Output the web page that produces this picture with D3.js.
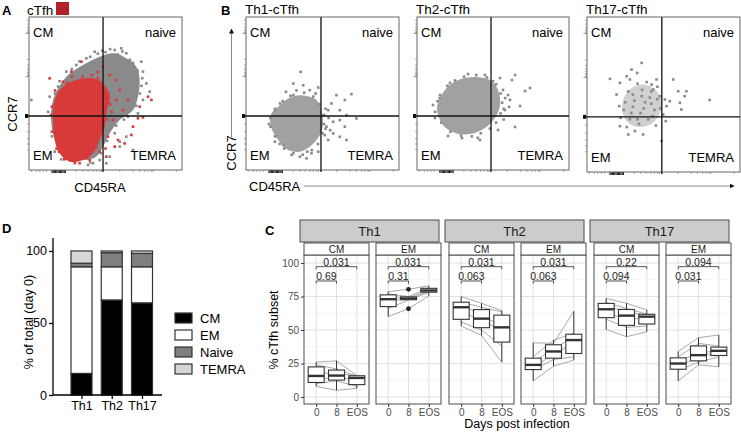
<!DOCTYPE html>
<html><head><meta charset="utf-8">
<script src="https://cdn.jsdelivr.net/npm/d3@7"></script>
<style>
body{margin:0;background:#fff}
svg text{font-family:Arial,"Liberation Sans",Helvetica,sans-serif}
</style>
</head><body>
<svg id="c" width="741" height="433"></svg>
<script>
// ---------------- DATA ----------------
// Flow panels (arbitrary fluorescence units, 0-100 on both axes)
const gateX = [48.4, 49.0, 48.7, 48.9];
const gateY = [35.3, 35.3, 35.3, 35.6];
const quadLabels = ["CM", "naive", "EM", "TEMRA"];
const flowTitles = ["Th1-cTfh", "Th2-cTfh", "Th17-cTfh"];

const aGreyHull = [[15.7,45.8],[24.4,61.0],[35.3,68.6],[46.2,74.1],[56.0,76.3],[63.6,73.0],[70.2,67.5],[72.3,58.8],[71.2,47.9],[68.0,39.2],[59.3,32.7],[52.7,24.0],[48.4,15.3],[44.0,8.7],[35.3,6.5],[24.4,8.7],[17.9,17.4],[14.6,30.5]];
const aRedHull = [[16.8,45.8],[22.2,54.5],[30.9,58.8],[41.8,59.9],[48.4,56.6],[52.7,47.9],[50.5,37.0],[49.5,28.3],[46.2,19.6],[41.8,10.9],[35.3,6.5],[26.6,5.4],[20.0,10.9],[16.8,19.6],[15.7,32.7]];
const aGreyDots = [[42.9,77.3],[56.0,78.4],[63.6,76.3],[73.4,70.8],[74.5,64.3],[76.7,56.6],[78.9,51.2],[74.5,45.8],[71.2,37.0],[64.7,34.9],[1.5,45.8],[46.2,6.5],[50.5,4.4],[41.8,4.4],[16.8,12.0],[68.0,13.1],[59.3,18.5],[56.0,24.0],[37.5,73.0],[30.9,68.6],[24.4,64.3],[19.0,54.5],[13.5,47.9],[60.3,79.5],[54.9,74.1],[66.9,69.7],[70.2,61.0],[59.3,15.3],[63.6,21.8],[52.7,8.7],[38.6,3.3],
  [20,58],[28,66],[33,71],[40,74],[50,77],[58,75.5],[66,72],[71,65],[73.5,55],[72.5,50],[70,42],[64,36],[57,29],[51,19],[47,11],[40,5],[30,6],[21,7],[15,22],[12.5,38],[17,50],[45,76],[68,70],[62,33],[49,27],[55,31],[53,79],[48,78],[61,77.5],[69,66],[74,60]];
const aRedDots = [[13.5,59.9],[15.0,41.4],[19.6,12.0],[25.5,8.7],[33.1,4.4],[39.7,6.5],[50.5,8.7],[56.0,15.3],[58.2,19.6],[62.5,17.4],[66.9,22.9],[68.0,28.3],[71.2,33.8],[74.5,34.4],[80.0,45.8],[77.8,47.9],[72.3,41.4],[52.7,62.1],[57.1,58.8],[48.4,67.5],[34.2,70.8],[27.7,64.3],[22.2,57.7],[61.4,39.2],[54.9,32.7],[46.2,12.0],[59.3,52.3],[64.7,45.8],[57.1,45.8],[51.6,21.8],
  [17,52],[25,57],[35,61],[45,60],[50,53],[53,43],[51,33],[48,25],[44,15],[38,8],[30,4.5],[23,7],[18,14],[15,25],[14.5,36],[19,49],[41,62],[52,50],[54,38],[50,14],[45,64],[28,61]];

const b1Hull = [[16.7,37.0],[21.1,41.3],[27.6,46.7],[35.2,48.9],[41.7,47.8],[46.1,45.7],[49.3,39.1],[50.4,32.6],[49.3,25.0],[46.1,19.6],[41.7,15.2],[35.2,12.0],[27.6,13.0],[21.1,19.6],[16.7,27.2],[15.7,32.6]];
const b1Dots = [[35.7,64.1],[30.9,56.5],[37.4,55.4],[47.2,53.9],[41.7,52.2],[26.1,51.1],[22.2,43.5],[18.9,39.1],[16.1,28.3],[59.1,48.9],[68.9,49.6],[64.6,45.7],[55.9,43.5],[53.7,39.1],[61.3,39.1],[65.7,35.9],[72.2,33.7],[61.3,32.6],[57.0,31.5],[64.6,28.3],[52.6,28.3],[57.0,23.9],[61.3,21.7],[51.5,22.8],[65.7,19.6],[53.7,19.6],[39.6,7.6],[35.2,8.7],[29.8,9.8],[42.8,10.9],[24.3,16.3],[18.9,18.5],[47.2,12.0],
  [16,34],[19,40],[24,45],[31,49],[38,50.5],[44,48],[48,43],[51,36],[51,30],[50,24],[47,17],[43,13],[37,10],[31,11],[25,14],[19,22],[15,30],[33,52],[29,48.5],[45.5,50],[52,40],[52,27],[40,12],[22,17],[54,34],[55,26]];
const b2Hull = [[13.2,40.5],[18.4,52.3],[27.0,58.8],[38.2,60.8],[48.0,58.8],[53.3,52.3],[54.6,42.5],[51.3,34.0],[44.7,27.5],[34.9,23.5],[25.0,24.2],[17.1,29.4]];
const b2Dots = [[64.5,62.1],[71.1,51.6],[67.8,41.8],[64.5,28.1],[62.5,58.8],[59.9,49.0],[57.9,39.2],[61.2,45.8],[53.3,26.1],[41.4,19.6],[29.6,20.9],[20.4,22.2],[11.8,34.0],[10.5,42.5],[15.1,49.0],[21.7,56.9],[33.6,62.7],[44.7,62.1],[54.6,60.1],[74.3,53.6],[56.6,52.3],[60.5,41.2],
  [12,38],[15,47],[20,55],[25,58.5],[31,61],[39,62],[46,60.5],[52,56],[55,50],[56,44],[55,37],[52,31],[48,27],[42,24],[36,22],[29,22.5],[22,25],[16,31],[13.5,45],[50,58],[57,40],[40,21],[58,47],[57,33]];
const b3Hull = [[23.7,46.8],[28.0,53.2],[34.6,56.4],[41.1,55.4],[46.5,51.1],[48.7,44.6],[47.6,38.2],[44.3,32.8],[38.9,29.6],[32.4,29.2],[27.0,31.8],[23.3,38.2]];
const b3Dots = [[35.7,70.4],[29.1,66.1],[32.8,63.9],[15.0,60.1],[21.5,57.5],[28.0,59.7],[42.2,56.4],[43.3,53.2],[56.3,59.7],[59.6,52.1],[65.0,52.1],[63.9,48.9],[80.2,46.4],[50.9,46.8],[54.1,45.7],[60.7,44.6],[61.7,40.3],[52.0,42.5],[49.8,37.1],[51.5,32.8],[48.7,20.0],[36.7,24.2],[31.3,26.4],[27.0,24.2],[21.5,29.6],[21.1,42.5],[19.3,50.0],[25.9,61.8],[45.4,59.7],[35.7,48.9],[47.6,48.9],
  [25,45],[30,50],[36,53],[42,52],[46,47],[44,40],[40,34],[34,31],[28,34],[24,40],[30,42],[38,45],[35,38],[42,44],[27,52],[46,55],[33,57],[39,58],[48,41],[22,35],[26,29],[45,30],[31,46],[37,41],[41,48],[29,38],[33,34],[43,36]];

// flow axis tick positions (same units)
const flowYMinor = [13.1,17.0,20.7,25.1,30.1,61.9,62.7,63.6,64.9,66.4,68.6,72.3,89.9,90.8,91.9,93.2,95.4,98.0];
const flowYMajor = [61.0, 89.3];
const flowXMinor = [1.5,4.8,7.0,9.2,11.3,30.9,35.3,38.6,41.8,44.0,46.2,47.3,59.3,68.0,72.3,75.6,77.8,79.9,81.0,96.3];
const flowXBlob = [15,15.8,16.6,17.4,18.2,19,19.8,20.6,21.4,22.2,23,23.8];

// Panel D: % of total (day 0)
const dCategories = ["Th1", "Th2", "Th17"];
const dSubsets = ["CM", "EM", "Naive", "TEMRA"];
const dCM = [15, 66, 64];
const dEM = [74, 23, 25];
const dNaive = [2.5, 9.8, 9.3];
const dTEMRA = [8.5, 1.2, 1.7];
const dTicks = [0, 50, 100];

// Panel C: per-subject % cTfh subset; rows = subjects, cols = days
const cGroups = ["Th1", "Th2", "Th17"];
const cSubsets = ["CM", "EM"];
const cDays = ["0", "8", "EOS"];
const cTicks = [0, 25, 50, 75, 100];
const th1CM = [[26,27,16],[24,21,15.5],[18,17.5,16],[13.5,14.5,13],[10,12,8],[8,5,6.5]];
const th1EM = [[78.6,80.4,83],[77,75,81.5],[74,74,80],[72,73,79],[66,72.5,78],[60,65.9,75.5]];
const th2CM = [[75,70,64.5],[71,67,63.5],[70,60,54],[64,57,50],[56,50,38],[53,46,26]];
const th2EM = [[40.5,40,64],[30,42.5,47.5],[26,36,45],[22,32,40],[20,28,30],[12,23,27.6]];
const th17CM = [[73.6,70,65],[70.5,66,62],[68,63.5,61],[63,58,59],[58,52,53],[50.5,45,48.7]];
const th17EM = [[34,44.3,46.3],[30,40,38],[27,32.5,35],[23,30,34],[20,26,30],[12,24,22.6]];
const pZeroVsEOS = [["0.031","0.031"],["0.031","0.031"],["0.22","0.094"]];
const pZeroVs8 = [["0.69","0.31"],["0.063","0.063"],["0.094","0.031"]];

// ---------------- DRAW ----------------
const svg = d3.select("#c");
let clipN = 0;

function label(txt, x, y, opts = {}) {
  const t = svg.append("text").attr("x", x).attr("y", y).text(txt)
    .attr("font-size", opts.size || 13).attr("fill", opts.fill || "#000")
    .attr("text-anchor", opts.anchor || "start");
  if (opts.bold) t.attr("font-weight", "bold");
  if (opts.rotate) t.attr("transform", `rotate(-90,${x},${y})`);
  return t;
}

function drawFlow(box, gx, gy, layers) {
  const g = svg.append("g");
  const x = d3.scaleLinear().domain([0, 100]).range([box.x, box.x + box.w]);
  const y = d3.scaleLinear().domain([0, 100]).range([box.y + box.h, box.y]);
  const id = "clip" + (clipN++);
  svg.append("clipPath").attr("id", id).append("rect")
    .attr("x", box.x).attr("y", box.y).attr("width", box.w).attr("height", box.h);
  const inner = g.append("g").attr("clip-path", `url(#${id})`);
  const hullLine = d3.line().x(d => x(d[0])).y(d => y(d[1])).curve(d3.curveCatmullRomClosed.alpha(0.5));
  layers.forEach(L => {
    inner.append("path").datum(L.hull).attr("d", hullLine).attr("fill", L.color).attr("opacity", L.op);
    inner.selectAll(null).data(L.dots).join("rect")
      .attr("x", d => x(d[0]) - 1.3).attr("y", d => y(d[1]) - 1.3)
      .attr("width", 2.6).attr("height", 2.6).attr("fill", L.color);
  });
  const yb = box.y + box.h;
  g.selectAll(null).data(flowYMinor).join("line")
    .attr("x1", box.x - 2).attr("x2", box.x).attr("y1", d => y(d)).attr("y2", d => y(d))
    .attr("stroke", "#888").attr("stroke-width", 0.7);
  g.selectAll(null).data(flowYMajor).join("line")
    .attr("x1", box.x - 3.5).attr("x2", box.x).attr("y1", d => y(d)).attr("y2", d => y(d))
    .attr("stroke", "#777").attr("stroke-width", 0.8);
  g.selectAll(null).data(flowXMinor).join("line")
    .attr("y1", yb).attr("y2", yb + 2).attr("x1", d => x(d)).attr("x2", d => x(d))
    .attr("stroke", "#888").attr("stroke-width", 0.7);
  g.selectAll(null).data(flowXBlob).join("line")
    .attr("y1", yb).attr("y2", yb + 3).attr("x1", d => x(d)).attr("x2", d => x(d))
    .attr("stroke", "#111").attr("stroke-width", 1);
  g.append("rect").attr("x", box.x).attr("y", box.y).attr("width", box.w).attr("height", box.h)
    .attr("fill", "none").attr("stroke", "#666").attr("stroke-width", 1);
  g.append("line").attr("x1", x(gx)).attr("x2", x(gx)).attr("y1", box.y).attr("y2", yb + 2)
    .attr("stroke", "#111").attr("stroke-width", 1.3);
  g.append("line").attr("x1", box.x - 4).attr("x2", box.x + box.w).attr("y1", y(gy)).attr("y2", y(gy))
    .attr("stroke", "#111").attr("stroke-width", 1.3);
  g.append("rect").attr("x", box.x - 4).attr("y", y(gy) - 2).attr("width", 3).attr("height", 4).attr("fill", "#111");
  label(quadLabels[0], box.x + 4, box.y + 20, {size: 13});
  label(quadLabels[1], box.x + box.w - 6, box.y + 20, {size: 13, anchor: "end"});
  label(quadLabels[2], box.x + 4, yb - 10, {size: 13});
  label(quadLabels[3], box.x + box.w - 6, yb - 10, {size: 13, anchor: "end"});
}

const GREY = "#8a8a8a", RED = "#d83a3a";

// Panel A
label("A", 2, 15, {bold: true, size: 13});
label("cTfh", 27, 15, {size: 13.5});
svg.append("rect").attr("x", 56).attr("y", 2).attr("width", 13).attr("height", 13).attr("fill", "#b22128");
drawFlow({x: 29, y: 17, w: 153, h: 153}, gateX[0], gateY[0], [
  {hull: aGreyHull, dots: aGreyDots, color: GREY, op: 1},
  {hull: aRedHull, dots: aRedDots, color: RED, op: 1}
]);
label("CD45RA", 100, 192, {size: 13, anchor: "middle"});
label("CCR7", 17, 114, {size: 13, anchor: "middle", rotate: true});

// Panel B
label("B", 221, 15, {bold: true, size: 13});
const bBoxes = [{x: 246, y: 17, w: 153, h: 153}, {x: 417, y: 17, w: 152, h: 153}, {x: 587, y: 17, w: 153, h: 155}];
const bHulls = [b1Hull, b2Hull, b3Hull];
const bDots = [b1Dots, b2Dots, b3Dots];
const bOps = [0.8, 0.8, 0.4];
bBoxes.forEach((b, i) => {
  label(flowTitles[i], b.x - 1, 14, {size: 13.5});
  drawFlow(b, gateX[i + 1], gateY[i + 1], [{hull: bHulls[i], dots: bDots[i], color: GREY, op: bOps[i]}]);
});
const defs = svg.append("defs");
defs.append("marker").attr("id", "arr").attr("viewBox", "0 0 10 10").attr("refX", 9).attr("refY", 5)
  .attr("markerWidth", 5).attr("markerHeight", 5).attr("orient", "auto")
  .append("path").attr("d", "M0,0L10,5L0,10z").attr("fill", "#111");
svg.append("line").attr("x1", 231.5).attr("x2", 231.5).attr("y1", 137).attr("y2", 29)
  .attr("stroke", "#888").attr("stroke-width", 1).attr("marker-end", "url(#arr)");
label("CCR7", 236, 153, {size: 13, anchor: "middle", rotate: true});
label("CD45RA", 249, 191, {size: 13});
svg.append("line").attr("x1", 304).attr("x2", 734).attr("y1", 186).attr("y2", 186)
  .attr("stroke", "#888").attr("stroke-width", 1).attr("marker-end", "url(#arr)");

// Panel D
label("D", 2, 233, {bold: true, size: 13});
const dy = d3.scaleLinear().domain([0, 109]).range([395, 238]);
const dx = d3.scalePoint().domain(dCategories).range([81.5, 142]);
const dColors = {CM: "#000000", EM: "#ffffff", Naive: "#7f7f7f", TEMRA: "#d6d6d6"};
const dRows = dCategories.map((c, i) => ({cat: c, CM: dCM[i], EM: dEM[i], Naive: dNaive[i], TEMRA: dTEMRA[i]}));
const stack = d3.stack().keys(dSubsets)(dRows);
const dg = svg.append("g");
stack.forEach(layer => {
  dg.selectAll(null).data(layer).join("rect")
    .attr("x", d => dx(d.data.cat) - 10.5).attr("width", 21)
    .attr("y", d => dy(d[1])).attr("height", d => dy(d[0]) - dy(d[1]))
    .attr("fill", dColors[layer.key]).attr("stroke", "#333").attr("stroke-width", 1.2);
});
const dAxisY = svg.append("g").attr("transform", "translate(53,0)")
  .call(d3.axisLeft(dy).tickValues(dTicks).tickSize(4).tickPadding(2));
dAxisY.select(".domain").attr("stroke", "#000").attr("stroke-width", 1.3).attr("d", `M0,${dy(109)}V${dy(0)}`);
dAxisY.selectAll(".tick line").attr("stroke", "#000").attr("stroke-width", 1.3);
dAxisY.selectAll("text").attr("font-size", 12.5).attr("fill", "#000");
const dAxisX = svg.append("g").attr("transform", "translate(0,395)")
  .call(d3.axisBottom(dx).tickSize(4).tickPadding(2));
dAxisX.select(".domain").attr("stroke", "#000").attr("stroke-width", 1.3).attr("d", "M53,0H162");
dAxisX.selectAll(".tick line").attr("stroke", "#000").attr("stroke-width", 1.3);
dAxisX.selectAll("text").attr("font-size", 12.5).attr("fill", "#000");
label("% of total (day 0)", 33, 322, {size: 12.5, anchor: "middle", rotate: true});
dSubsets.forEach((s, i) => {
  const yy = 313 + i * 17;
  svg.append("rect").attr("x", 175).attr("y", yy).attr("width", 17).attr("height", 10)
    .attr("fill", dColors[s]).attr("stroke", "#333").attr("stroke-width", 1.2);
  label(s, 200, yy + 10, {size: 13});
});

// Panel C
label("C", 265, 235, {bold: true, size: 13});
const cData = [[th1CM, th1EM], [th2CM, th2EM], [th17CM, th17EM]];
const cy = d3.scaleLinear().domain([-5.2, 106]).range([404, 255]);
const PW = 65;
function boxStats(vals) {
  const s = vals.slice().sort(d3.ascending);
  const q1 = d3.quantile(s, 0.25), med = d3.quantile(s, 0.5), q3 = d3.quantile(s, 0.75);
  const iqr = q3 - q1, lo = q1 - 1.5 * iqr, hi = q3 + 1.5 * iqr;
  const inside = s.filter(v => v >= lo && v <= hi);
  return {q1, med, q3, wlo: d3.min(inside), whi: d3.max(inside), out: s.filter(v => v < lo || v > hi)};
}
cGroups.forEach((grp, gi) => {
  const l0 = 304 + gi * 145;
  svg.append("rect").attr("x", l0 - 4).attr("y", 220).attr("width", PW * 2 + 7 + 2).attr("height", 22)
    .attr("fill", "#cccccc").attr("stroke", "#4d4d4d").attr("stroke-width", 1);
  label(grp, l0 - 4 + (PW * 2 + 9) / 2, 236, {size: 13, anchor: "middle", fill: "#1a1a1a"});
  cSubsets.forEach((sub, si) => {
    const left = l0 + si * 72;
    const x = d3.scalePoint().domain(cDays).range([left, left + PW]).padding(0.6);
    const g = svg.append("g");
    g.append("rect").attr("x", left).attr("y", 255).attr("width", PW).attr("height", 149).attr("fill", "#fff");
    const minor = [12.5, 37.5, 62.5, 87.5];
    g.selectAll(null).data(minor).join("line").attr("x1", left).attr("x2", left + PW)
      .attr("y1", d => cy(d)).attr("y2", d => cy(d)).attr("stroke", "#eeeeee").attr("stroke-width", 0.6);
    g.selectAll(null).data(cTicks).join("line").attr("x1", left).attr("x2", left + PW)
      .attr("y1", d => cy(d)).attr("y2", d => cy(d)).attr("stroke", "#e2e2e2").attr("stroke-width", 1);
    g.selectAll(null).data(cDays).join("line").attr("y1", 255).attr("y2", 404)
      .attr("x1", d => x(d)).attr("x2", d => x(d)).attr("stroke", "#e2e2e2").attr("stroke-width", 1);
    const subj = cData[gi][si];
    const line = d3.line().x((d, i) => x(cDays[i])).y(d => cy(d));
    g.selectAll(null).data(subj).join("path").attr("d", line).attr("fill", "none")
      .attr("stroke", "#aaaaaa").attr("stroke-width", 1);
    cDays.forEach((day, di) => {
      const st = boxStats(subj.map(r => r[di]));
      const cx = x(day), bw = 16;
      g.append("line").attr("x1", cx).attr("x2", cx).attr("y1", cy(st.whi)).attr("y2", cy(st.q3)).attr("stroke", "#333").attr("stroke-width", 1);
      g.append("line").attr("x1", cx).attr("x2", cx).attr("y1", cy(st.q1)).attr("y2", cy(st.wlo)).attr("stroke", "#333").attr("stroke-width", 1);
      g.append("rect").attr("x", cx - bw / 2).attr("width", bw).attr("y", cy(st.q3)).attr("height", cy(st.q1) - cy(st.q3))
        .attr("fill", "#fff").attr("stroke", "#333").attr("stroke-width", 1.1);
      g.append("line").attr("x1", cx - bw / 2).attr("x2", cx + bw / 2).attr("y1", cy(st.med)).attr("y2", cy(st.med))
        .attr("stroke", "#333").attr("stroke-width", 2.4);
      g.selectAll(null).data(st.out).join("circle").attr("cx", cx).attr("cy", d => cy(d)).attr("r", 2.4).attr("fill", "#222");
    });
    const br = [[cDays[0], cDays[2], 97.3, pZeroVsEOS[gi][si]], [cDays[0], cDays[1], 86.6, pZeroVs8[gi][si]]];
    br.forEach(([a, b, v, p]) => {
      const yy = cy(v), yt = cy(v - 2);
      g.append("path").attr("d", `M${x(a)},${yt}V${yy}H${x(b)}V${yt}`).attr("fill", "none").attr("stroke", "#444").attr("stroke-width", 0.9);
      g.append("text").attr("x", (x(a) + x(b)) / 2).attr("y", yy - 1).attr("text-anchor", "middle")
        .attr("font-size", 10.5).attr("fill", "#222").text(p);
    });
    g.append("rect").attr("x", left).attr("y", 255).attr("width", PW).attr("height", 149)
      .attr("fill", "none").attr("stroke", "#4d4d4d").attr("stroke-width", 1);
    g.append("rect").attr("x", left).attr("y", 243).attr("width", PW).attr("height", 12)
      .attr("fill", "#fff").attr("stroke", "#4d4d4d").attr("stroke-width", 1);
    g.append("text").attr("x", left + PW / 2).attr("y", 252.5).attr("text-anchor", "middle")
      .attr("font-size", 10).attr("fill", "#1a1a1a").text(sub);
    const xa = g.append("g").attr("transform", "translate(0,404)").call(d3.axisBottom(x).tickSize(3).tickPadding(2));
    xa.select(".domain").remove();
    xa.selectAll(".tick line").attr("stroke", "#333");
    xa.selectAll("text").attr("font-size", 10).attr("fill", "#4d4d4d");
    if (gi === 0 && si === 0) {
      const ya = g.append("g").attr("transform", `translate(${left},0)`).call(d3.axisLeft(cy).tickValues(cTicks).tickSize(3).tickPadding(2));
      ya.select(".domain").remove();
      ya.selectAll(".tick line").attr("stroke", "#333");
      ya.selectAll("text").attr("font-size", 10).attr("fill", "#4d4d4d");
    }
  });
});
label("% cTfh subset", 278, 330, {size: 12.5, anchor: "middle", rotate: true});
label("Days post infection", 517, 428, {size: 12.5, anchor: "middle"});
</script>
</body></html>
